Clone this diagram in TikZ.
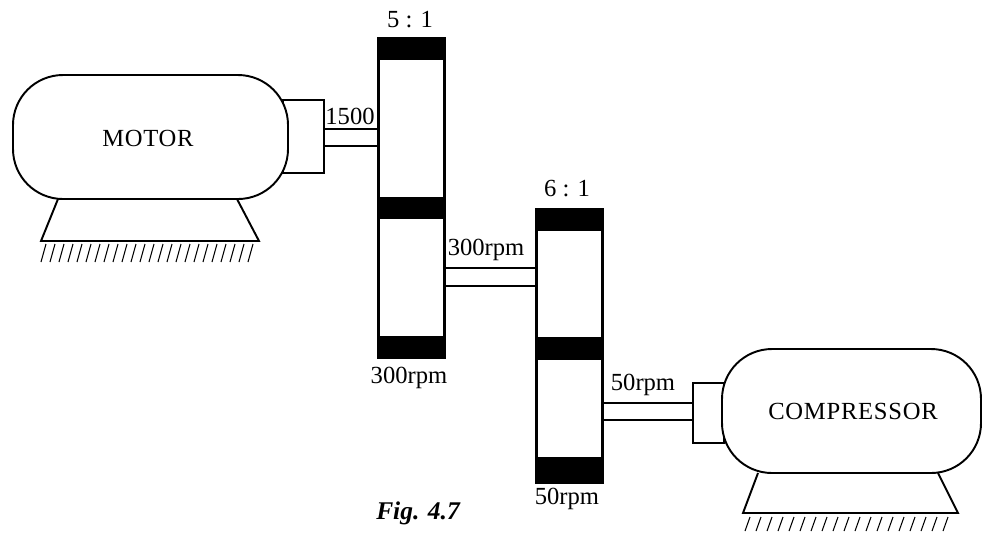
\documentclass[tikz,border=0pt]{standalone}
\usepackage{fontspec}
\setmainfont{Liberation Serif}
\tikzset{
  outline/.style={line width=1.1pt, fill=white},
  wheel/.style={line width=1.7pt, fill=white},
  band/.style={fill=black},
  hatchline/.style={line width=0.6pt},
  label/.style={font=\fontsize{14}{15}\selectfont, inner sep=0pt},
  spaced/.style={font=\fontsize{14}{15}\selectfont\addfontfeature{LetterSpace=3}, inner sep=0pt},
}
\begin{document}
\begin{tikzpicture}[x=0.02cm, y=-0.02cm]
\useasboundingbox (0,0) rectangle (982,532);
% motor side
\draw[outline] (283,100) rectangle (324,173);
\draw[outline, rounded corners=1.0cm] (13,75) rectangle (288,199);
\draw[line width=1.1pt] (58,199) -- (41,241) -- (259,241) -- (237,199);
\foreach \x in {46,55,...,256} \draw[hatchline] (\x,244) -- (\x-5,262);
\draw[line width=1.1pt] (324,129) -- (378,129);
\draw[line width=1.1pt] (324,146) -- (378,146);
% first reduction
\draw[wheel] (378,38) rectangle (444,357);
\fill[band] (377,37) rectangle (445,60);
\fill[band] (377,197) rectangle (445,219);
\fill[band] (377,336) rectangle (445,358);
\draw[line width=1.1pt] (444,268) -- (535,268);
\draw[line width=1.1pt] (444,286) -- (535,286);
% second reduction
\draw[wheel] (536,209) rectangle (602,482);
\fill[band] (535,208) rectangle (603,231);
\fill[band] (535,337) rectangle (603,360);
\fill[band] (535,457) rectangle (603,483);
\draw[line width=1.1pt] (603,403) -- (693,403);
\draw[line width=1.1pt] (603,420) -- (693,420);
% compressor side
\draw[outline] (693,383) rectangle (724,443);
\draw[outline, rounded corners=1.0cm] (722,349) rectangle (981,473);
\draw[line width=1.1pt] (758,473) -- (743,513) -- (958,513) -- (938,473);
\foreach \x in {750,761,...,956} \draw[hatchline] (\x,517) -- (\x-5,531);
% labels
\node[label] (ratioa) at (410,20) {5 : 1};
\node[label] (speedin) at (350,116) {1500};
\node[spaced] (motor) at (148,138) {MOTOR};
\node[label] (speedb) at (486,250) {300rpm};
\node[label] (speedc) at (409,378) {300rpm};
\node[label] (ratiob) at (567,189) {6 : 1};
\node[label] (speedd) at (643,385) {50rpm};
\node[label] (speede) at (567,499) {50rpm};
\node[spaced] (compressor) at (853,411) {COMPRESSOR};
\node[label, font=\fontsize{14.5}{15}\selectfont\bfseries\itshape] (figlabel) at (418,513) {Fig. 4.7};
\end{tikzpicture}
\end{document}
